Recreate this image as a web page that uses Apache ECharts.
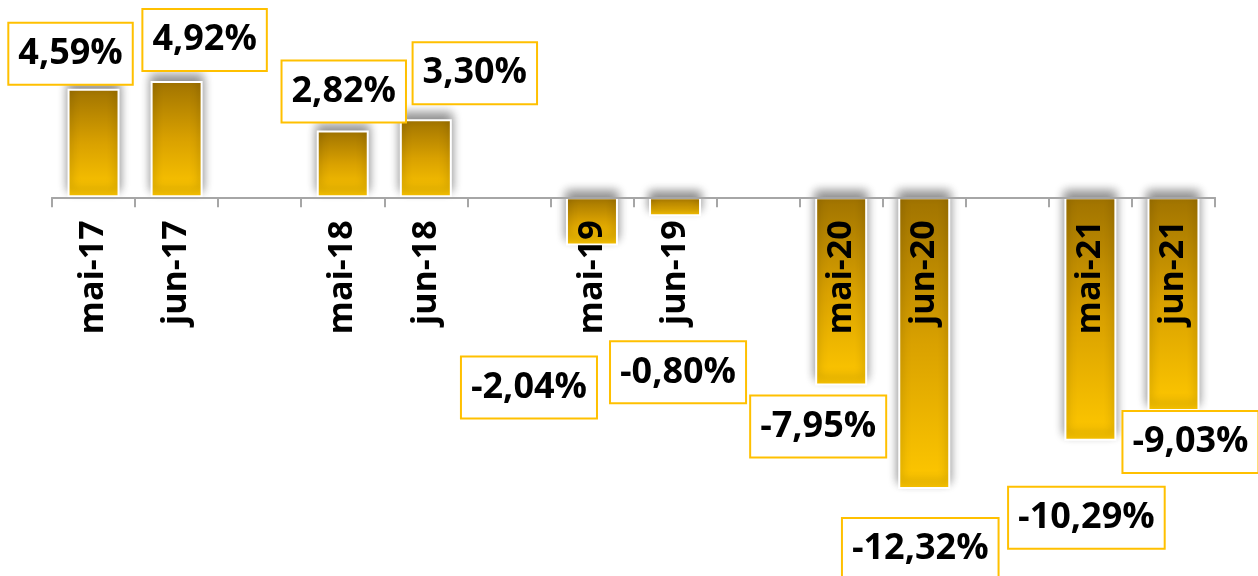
<!DOCTYPE html>
<html>
<head>
<meta charset="utf-8">
<title>variação</title>
<script src="https://cdn.jsdelivr.net/npm/echarts@6/dist/echarts.min.js"></script>
<style>
	html, body { margin: 0; padding: 0; background: #fff; }
	#chart { width: 1258px; height: 576px; }
</style>
</head>
<body>
<div id="chart"></div>
<script>
	// categorias (vazias = espaço entre os anos)
	var months = ['mai-17', 'jun-17', '', 'mai-18', 'jun-18', '', 'mai-19', 'jun-19', '', 'mai-20', 'jun-20', '', 'mai-21', 'jun-21'];
	var values = [4.59, 4.92, null, 2.82, 3.30, null, -2.04, -0.80, null, -7.95, -12.32, null, -10.29, -9.03];
	// deslocamento manual dos rótulos [x, y]
	var labelOffsets = [[-23, 0], [28, -6], [0, 0], [1, -4], [49, -11], [0, 0], [-63, 107], [3, 121], [0, 0], [-23, 6], [-4, 25], [0, 0], [-4, 42], [17, -4]];

	var yMin = -16, yMax = 8;

	var barColor = new echarts.graphic.LinearGradient(0, 0, 0, 1, [
		{offset: 0, color: '#A07300'},
		{offset: 0.5, color: '#D9A100'},
		{offset: 1, color: '#FFC800'}
	]);

	var seriesData = values.map(function(v, i){
		if(v === null) return '-';
		return {
			value: v,
			label: {
				position: v >= 0 ? 'top' : 'bottom',
				offset: labelOffsets[i]
			}
		};
	});

	var myChart = echarts.init(document.getElementById('chart'));
	var option = {
		animation: false,
		grid: {
			left: 52,
			right: 43,
			top: 8,
			bottom: 0,
			containLabel: false,
			outerBoundsMode: 'none'
		},
		xAxis: {
			type: 'category',
			data: months,
			z: 10,
			offset: 0,
			axisLine: {
				onZero: false,
				lineStyle: {color: '#A6A6A6', width: 2}
			},
			axisTick: {
				show: true,
				length: 10,
				lineStyle: {color: '#A6A6A6', width: 2}
			},
			axisLabel: {
				rotate: 90,
				margin: 23,
				interval: 0,
				color: '#000',
				fontFamily: 'Open Sans',
				fontWeight: 'bold',
				fontSize: 34
			}
		},
		yAxis: {
			type: 'value',
			min: yMin,
			max: yMax,
			show: false,
			splitLine: {show: false}
		},
		series: [
			{
				type: 'bar',
				barWidth: 52,
				data: seriesData,
				itemStyle: {
					color: barColor,
					borderColor: '#fff',
					borderWidth: 2,
					shadowColor: 'rgba(0,0,0,0.45)',
					shadowBlur: 10,
					shadowOffsetY: -6
				},
				label: {
					show: true,
					distance: 5,
					formatter: function(p){
						return p.value.toFixed(2).replace('.', ',') + '%';
					},
					color: '#000',
					fontFamily: 'Open Sans',
					fontWeight: 'bold',
					fontSize: 36,
					lineHeight: 40,
					backgroundColor: '#fff',
					borderColor: '#FFC000',
					borderWidth: 2,
					padding: [10, 9, 10, 9]
				}
			}
		]
	};
	myChart.setOption(option);

	// leva o eixo x (linha, marcas e rótulos) até o zero
	var zeroY = myChart.convertToPixel({yAxisIndex: 0}, 0);
	var bottomY = myChart.convertToPixel({yAxisIndex: 0}, yMin);
	myChart.setOption({xAxis: {offset: zeroY - bottomY}});
</script>
</body>
</html>
